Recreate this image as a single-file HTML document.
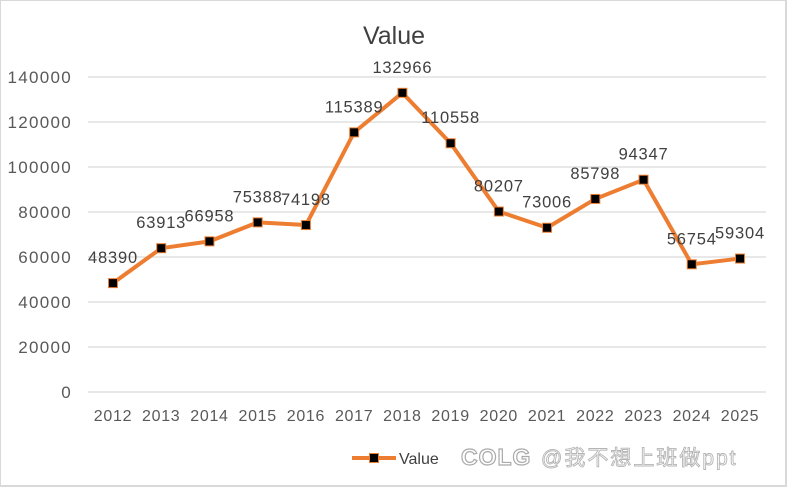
<!DOCTYPE html>
<html><head><meta charset="utf-8"><style>
body{margin:0;background:#fff;width:789px;height:489px;overflow:hidden;font-family:"Liberation Sans","Noto Sans CJK SC",sans-serif}
</style></head><body>
<svg width="789" height="489" xmlns="http://www.w3.org/2000/svg">
<rect x="0" y="0" width="786" height="486" fill="#fff" stroke="#d9d9d9" stroke-width="2"/>
<text x="394" y="44" text-anchor="middle" font-size="25" fill="#404040">Value</text>
<g id="grid"></g><g id="yticks"></g><g id="xticks"></g><g id="series"></g>
<g>
<line x1="352" y1="458" x2="396" y2="458" stroke="#ED7D31" stroke-width="4"/>
<rect x="369.5" y="453.5" width="9" height="9" fill="#000" stroke="#ED7D31" stroke-width="1"/>
<text x="399" y="464" font-size="16" fill="#404040">Value</text>
</g>
<text x="461" y="465" font-size="23" font-weight="bold" fill="#fff" stroke="#aaa" stroke-width="1.2" letter-spacing="1">COLG</text>
<text x="541" y="465" font-size="21" fill="#fff" stroke="#b5b5b5" stroke-width="0.9" letter-spacing="2">@我不想上班做ppt</text>
</svg>
<script>
const categories=["2012","2013","2014","2015","2016","2017","2018","2019","2020","2021","2022","2023","2024","2025"];
const values=[48390,63913,66958,75388,74198,115389,132966,110558,80207,73006,85798,94347,56754,59304];
const yTicks=[0,20000,40000,60000,80000,100000,120000,140000];
const NS="http://www.w3.org/2000/svg";
const yS=v=>392-v*315/140000;
const xS=i=>113+i*(740-113)/(categories.length-1);
function mk(t,a,p){const e=document.createElementNS(NS,t);for(const k in a)e.setAttribute(k,a[k]);p.appendChild(e);return e;}
const g=document.getElementById('grid'),yt=document.getElementById('yticks'),xt=document.getElementById('xticks'),s=document.getElementById('series');
yTicks.forEach(v=>{
 const l=mk('line',{x1:88,x2:766,y1:yS(v),y2:yS(v),stroke:'#d9d9d9','stroke-width':1.3},g);
 
 
 const t=mk('text',{x:72,y:yS(v)+6,'text-anchor':'end','font-size':17,'letter-spacing':1.3,fill:'#595959'},yt);
 t.textContent=v;
 
 
});
categories.forEach((c,i)=>{
 const t=mk('text',{x:xS(i),y:421,'text-anchor':'middle','font-size':16,'letter-spacing':0.7,fill:'#595959'},xt);
 t.textContent=c;
 
 
});
const pl=mk('polyline',{points:values.map((v,i)=>xS(i)+','+yS(v)).join(' '),fill:'none',stroke:'#ED7D31','stroke-width':4,'stroke-linejoin':'round'},s);


values.forEach((v,i)=>{
 const r=mk('rect',{x:xS(i)-4.5,y:yS(v)-4.5,width:9,height:9,fill:'#000',stroke:'#ED7D31','stroke-width':1},s);
 
 
 const t=mk('text',{x:xS(i),y:yS(v)-20,'text-anchor':'middle','font-size':16.5,'letter-spacing':0.8,fill:'#404040'},s);
 t.textContent=v;
 
 
});
</script>
</body></html>
